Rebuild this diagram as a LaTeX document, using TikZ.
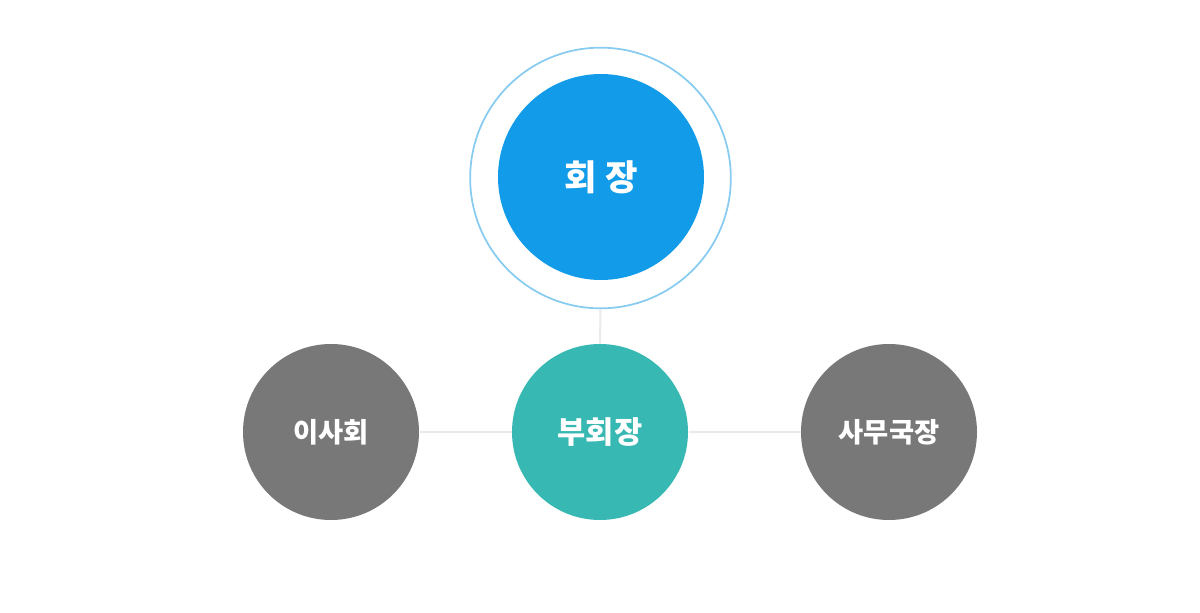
\documentclass[tikz,border=0pt]{standalone}
\usepackage{fontspec}
\newfontfamily\korfont{Noto Sans CJK KR}
\definecolor{chairblue}{RGB}{18,155,232}
\definecolor{ringblue}{RGB}{135,203,241}
\definecolor{viceteal}{RGB}{55,184,178}
\definecolor{memgray}{RGB}{120,120,120}
\definecolor{linkgray}{RGB}{234,234,234}
\tikzset{every picture/.style={line width=0.75pt}}
\tikzset{
  orgcircle/.style={circle, inner sep=0pt, text=white, font=\korfont\bfseries},
  orglink/.style={draw=linkgray, line width=1.5pt},
}

\begin{document}
\begin{tikzpicture}[x=0.75pt,y=0.75pt,yscale=-1,xscale=1]
	\useasboundingbox (0,0) rectangle (1200,613);

	%Shape: Ring [id:chairring]
	\node (ring) [circle, draw=ringblue, line width=1.3pt, minimum size=195.5pt, inner sep=0pt] at (600.5,178) {};
	%Shape: Circle [id:chair]
	\node (chair) [orgcircle, fill=chairblue, minimum size=154.5pt, font=\korfont\bfseries\fontsize{26.5}{30}\selectfont] at (601,177) {회 장};
	%Shape: Circle [id:vice]
	\node (vice) [orgcircle, fill=viceteal, minimum size=132pt, font=\korfont\bfseries\fontsize{23}{26}\selectfont] at (600,432) {부회장};
	%Shape: Circle [id:board]
	\node (board) [orgcircle, fill=memgray, minimum size=132pt, font=\korfont\bfseries\fontsize{20.5}{24}\selectfont] at (331,432) {이사회};
	%Shape: Circle [id:office]
	\node (office) [orgcircle, fill=memgray, minimum size=132pt, font=\korfont\bfseries\fontsize{20.5}{24}\selectfont] at (889,432) {사무국장};

	%Straight Lines [id:links]
	\draw [orglink] (ring.south) -- (vice.north) ;
	\draw [orglink] (board.east) -- (vice.west) ;
	\draw [orglink] (vice.east) -- (office.west) ;

\end{tikzpicture}
\end{document}
